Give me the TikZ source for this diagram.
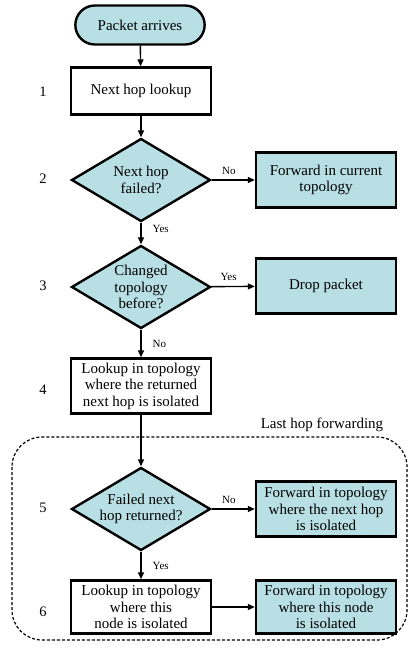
\documentclass[tikz,border=0pt]{standalone}
\usepackage{fontspec}
\setmainfont{Liberation Serif}
\usetikzlibrary{shapes.geometric,shapes.misc,arrows.meta,positioning}
\definecolor{cyanfill}{HTML}{B8E0E4}
\tikzset{
  x=1pt,y=-1pt,
  txt/.style={align=center,font=\fontsize{15}{16.5}\selectfont},
  proc/.style={draw,line width=2.4pt,minimum width=140pt,minimum height=#1,inner sep=0pt,txt},
  proc/.default=47pt,
  act/.style={proc=#1,fill=cyanfill},
  act/.default=55pt,
  decis/.style={draw,line width=2.4pt,fill=cyanfill,diamond,aspect=1.67,minimum width=139pt,minimum height=83pt,inner sep=0pt},
  term/.style={draw,line width=2.4pt,fill=cyanfill,rounded rectangle,minimum width=136pt,minimum height=39pt,txt},
  num/.style={font=\fontsize{14.5}{16}\selectfont},
  lbl/.style={font=\fontsize{11}{12}\selectfont,inner sep=2pt},
  rlbl/.style={lbl,right,xshift=9pt},
  arr/.style={line width=1.4pt,-{Triangle[length=7pt,width=6pt]}},
}
\begin{document}
\begin{tikzpicture}
\useasboundingbox (0,0) rectangle (409,669);
\node[term] (start) at (140,25) {Packet arrives};
\node[proc] (s1) at (141,91) {Next hop lookup};
\node[decis,label={[txt]center:{Next hop\\failed?}}] (s2) at (141,180) {};
\node[act] (f2) at (326,180) {Forward in current\\topology};
\node[decis,label={[txt]center:{Changed\\topology\\before?}}] (s3) at (141,287) {};
\node[act] (d3) at (326,286) {Drop packet};
\node[proc=55pt] (s4) at (141,386) {Lookup in topology\\where the returned\\next hop is isolated};
\node[decis,label={[txt]center:{Failed next\\hop returned?}}] (s5) at (141,509) {};
\node[act] (f5) at (326,509) {Forward in topology\\where the next hop\\is isolated};
\node[proc=53pt] (s6) at (141,607) {Lookup in topology\\where this\\node is isolated};
\node[act=53pt] (f6) at (326,607) {Forward in topology\\where this node\\is isolated};
\node[num] (n1) at (43,92) {1};
\node[num] (n2) at (43,179) {2};
\node[num] (n3) at (43,286) {3};
\node[num] (n4) at (43,390) {4};
\node[num] (n5) at (43,508) {5};
\node[num] (n6) at (43,612) {6};
\draw[line width=1.2pt,dash pattern=on 3pt off 2pt,rounded corners=30pt] (12,437) rectangle (407,640);
\node[txt] (lhf) at (322,425) {Last hop forwarding};
\draw[arr] (start) -- (s1);
\draw[arr] (s1) -- (s2);
\draw[arr] (s2) -- node[lbl,above=3pt,pos=0.4] (no2) {No} (f2);
\draw[arr] (s2) -- node[rlbl,pos=0.3] (yes2) {Yes} (s3);
\draw[arr] (s3) -- node[lbl,above=3pt,pos=0.4] (yes3) {Yes} (d3);
\draw[arr] (s3) -- node[rlbl,pos=0.5] (no3) {No} (s4);
\draw[arr] (s4) -- (s5);
\draw[arr] (s5) -- node[lbl,above=3pt,pos=0.4] (no5) {No} (f5);
\draw[arr] (s5) -- node[rlbl,pos=0.5] (yes5) {Yes} (s6);
\draw[arr] (s6) -- (f6);
\end{tikzpicture}
\end{document}
